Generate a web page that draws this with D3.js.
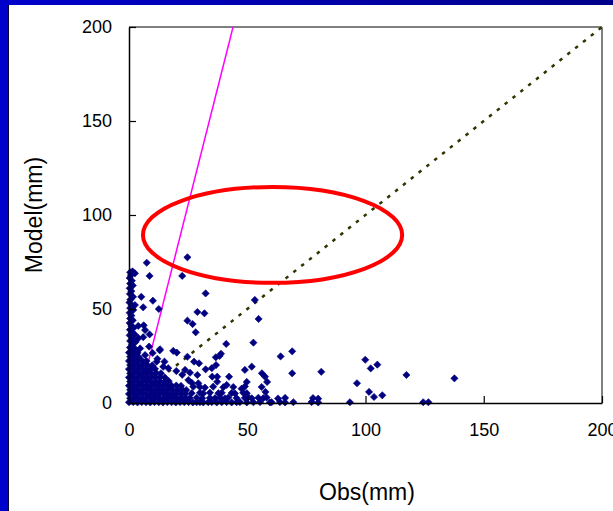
<!DOCTYPE html>
<html>
<head>
<meta charset="utf-8">
<script src="https://cdn.jsdelivr.net/npm/d3@7"></script>
<style>
  html, body { margin: 0; padding: 0; background: #fff; }
  svg { display: block; }
  text { font-family: "Liberation Sans", Arial, sans-serif; }
</style>
</head>
<body>
<svg id="chart" width="613" height="511"></svg>
<script>
// Axis ticks (mm)
const xTicks = [0, 50, 100, 150, 200];
const yTicks = [0, 50, 100, 150, 200];

// Dense cluster of small events near the origin: [obs, model]
const clusterPoints = [
  [0,0.4],[1.8,0.5],[3.6,0.3],[5.4,0.5],[7.2,0.4],[9,0.3],[10.8,0.5],[12.6,0.4],[14.4,0.3],[16.2,0.5],[18,0.4],[19.8,0.3],[21.6,0.5],[23.4,0.4],[25.2,0.5],[27,0.3],
  [0.5,2.5],[2.3,2.7],[4.1,2.6],[5.9,2.4],[7.7,2.8],[9.5,2.5],[11.3,2.7],[13.1,2.4],[14.9,2.6],[16.7,2.8],[18.5,2.5],[20.3,2.6],[22.1,2.7],[23.9,2.5],[25.7,2.6],
  [0,4.8],[1.8,4.9],[3.6,4.7],[5.4,5],[7.2,4.8],[9,4.6],[10.8,4.9],[12.6,4.8],[14.4,5],[16.2,4.7],[18,4.9],[19.8,4.6],[22,4.9],[23.8,4.8],
  [0.5,7],[2.3,7.1],[4.1,6.9],[5.9,7.2],[7.7,7],[9.5,6.8],[11.3,7.1],[13.1,7],[14.9,6.9],[16.7,7.2],[18.5,7],[20.5,6.8],[22.5,7.1],[24.2,6.9],
  [0,9.2],[1.8,9.3],[3.6,9.1],[5.4,9.4],[7.2,9.2],[9,9],[10.8,9.3],[12.6,9.2],[14.4,9.1],[16.2,9.4],[18,9.2],[20,9.3],[22,9.1],
  [0.5,11.4],[2.3,11.5],[4.1,11.3],[5.9,11.6],[7.7,11.4],[9.5,11.2],[11.3,11.5],[13.1,11.4],[15,11.3],[16.8,11.6],
  [0,13.6],[1.8,13.7],[3.6,13.5],[5.4,13.8],[7.2,13.6],[9,13.4],[11,13.7],[13,13.6],[15.2,13.5],
  [0.5,15.8],[2.3,15.9],[4.1,15.7],[5.9,16],[7.7,15.8],[9.5,15.6],[11.5,15.9],[13.5,15.8],
  [0,18],[1.8,18.1],[3.6,17.9],[5.4,18.2],[7.2,18],[9,17.8],[11,18.1],
  [0.5,20.2],[2.3,20.3],[4.1,20.1],[5.9,20.4],[7.7,20.2],[9.8,20],
  [0,22.4],[1.8,22.5],[3.6,22.3],[5.4,22.6],[7.4,22.3],
  [0.5,24.6],[2.3,24.7],[4.1,24.5],
  [0,26.8],[1.8,26.9],[3.6,26.7]
];

// Events with almost no observed rain but a sizeable model value
const columnPoints = [
  [0.5,69.5],[1.5,70],[2.5,69],[0.8,68],[0.3,66.5],[1.2,65],[0.5,63.5],[1.6,62.5],[0.3,61],[1,59.5],
  [0.4,58],[1.7,56.5],[0.6,55],[0.2,53.5],[1.2,52],[0.5,50.5],[1.8,49.5],[0.3,48],[1,46.5],[0.5,45],
  [1.6,44],[0.3,42.5],[1,41],[2,40],[0.4,39],[1.2,37.5],[0.3,36],[2.4,36.5],[1.4,34.5],[0.5,33],
  [2.8,32.5],[1.3,31],[0.4,29.5],[2.4,29],[1.2,27.5]
];

// Remaining scattered events
const scatterPoints = [
  [28.6,0.4],[30,0.5],[31.4,0.3],[33.5,0.4],[35,0.5],[37.1,0.3],[39.2,0.4],[41.3,0.5],[43.4,0.3],[45.5,0.4],
  [46.9,0.5],[49.8,0.3],[52.6,0.4],[55.4,0.5],[59.6,0.3],[60.3,0.4],[63.8,0.5],[66,0.3],[69.5,0.4],[77.2,0.5],
  [80,0.3],[93.4,0.4],[124.4,0.4],[126.6,0.4],
  [28.6,2.8],[31,2.5],[34.2,2.7],[36.4,2.6],[38.5,2.8],[40.6,2.5],[42,2.9],[45.5,2.6],[49,2.7],[50.4,3],
  [51.9,2.5],[54.7,2.8],[56.8,2.6],[58.2,2.9],[63,2.4],[66,2.7],[77.8,2.6],[80,2.3],
  [26.5,5.2],[30,5.4],[31.4,5.1],[34.2,5.5],[37.8,5.2],[39.2,5.4],[43.4,5.3],[44.8,5.1],[48.3,5.4],[49.8,5.2],[57.7,5.9],
  [27.2,8.7],[30,8.5],[32.1,8.2],[35.6,8.7],[39.9,8.4],[44.1,8.5],[47.6,7.6],[49,8.8],[56.1,8.5],
  [25.1,12.2],[26.5,10.8],[29.3,10.5],[37.3,11.3],[49.8,11.2],[58.4,11.2],[41.3,9.6],
  [18.7,27.7],[20.2,26.8],[13.1,28.6],[24.7,24.6],[27.5,22],[29.6,21.1],[23.7,17.6],[25.8,16.1],[28.9,14.9],
  [32.4,17.9],[35,18.5],[36.8,20.2],[35.2,14],[37.3,14],[42.3,14],[20,17],[22.5,15],[14.5,19.3],[16.6,18.5],
  [11.7,22],[38.3,25],[38.9,26.2],[36.7,24.3],[41.1,31.4],[52.6,32.1],[54.8,44.7],[53.2,54.8],[51.9,19.3],
  [49,17.6],[56.2,15.8],[57.5,14],[64.1,24.8],[69,27.5],[69,15.8],[81.3,16.6],[99.9,23],[102.2,18.4],
  [105,20.4],[96.4,10.5],[101.5,5.9],[103.6,3.2],[107.1,4.1],[117.3,14.9],[137.6,13.1],
  [24.7,77.5],[7.5,74.6],[8.7,67.6],[22.5,67.6],[32.4,58.3],[5.2,56.5],[10.1,54.4],[12.6,50],[28.9,48.4],
  [31.9,47.7],[24.7,43.8],[26.9,42],[28.2,37.6],[6.2,41.3],[8.7,36.5],[2.5,52.1],[6,50.9],[3.9,41],
  [6.8,38.8],[6,35],[4,34.5],[13,28],[4.7,29],[6.8,25.5],[10,26.6],[12,23.5],[15,22],[8.5,30]
];

// Reference lines: 1:1 line and fitted trend
const oneToOne = [[0, 0], [200, 200]];
const trendLine = [[6, 11], [44, 200]];

// Highlighted region (centre and half-axes in mm)
const highlight = { obs: 60.7, model: 89.4, rObs: 54.8, rModel: 25.5 };

const svg = d3.select("#chart");
const W = 613, H = 511;

// Slide frame: blue strips on the left and top
const grad = svg.append("defs").append("linearGradient")
  .attr("id", "topband").attr("x1", 0).attr("x2", 1).attr("y1", 0).attr("y2", 0);
grad.append("stop").attr("offset", 0).attr("stop-color", "#0000cc");
grad.append("stop").attr("offset", 1).attr("stop-color", "#000088");
svg.append("rect").attr("x", 0).attr("y", 0).attr("width", 9).attr("height", H).attr("fill", "#0000cc");
svg.append("rect").attr("x", 0).attr("y", 0).attr("width", W).attr("height", 5).attr("fill", "url(#topband)");
svg.append("line").attr("x1", 8.5).attr("x2", 8.5).attr("y1", 5).attr("y2", H)
  .attr("stroke", "#000033").attr("stroke-width", 1);

const x = d3.scaleLinear().domain([0, 200]).range([129, 602]);
const y = d3.scaleLinear().domain([0, 200]).range([403, 27]);

// Plot frame: grey top/right, black axes
svg.append("line").attr("x1", x(0)).attr("x2", x(200)).attr("y1", y(200)).attr("y2", y(200))
  .attr("stroke", "#808080").attr("stroke-width", 2);
svg.append("line").attr("x1", x(200)).attr("x2", x(200)).attr("y1", y(200)).attr("y2", y(0))
  .attr("stroke", "#808080").attr("stroke-width", 2);

const line = d3.line().x(d => x(d[0])).y(d => y(d[1]));

svg.append("path").datum(oneToOne).attr("d", line)
  .attr("fill", "none").attr("stroke", "#333300").attr("stroke-width", 2.5)
  .attr("stroke-dasharray", "3.5,6.5");

svg.append("path").datum(trendLine).attr("d", line)
  .attr("fill", "none").attr("stroke", "#ff00ff").attr("stroke-width", 1.5);

// Scatter markers (small diamonds)
const diamond = d3.symbol().type(d3.symbolSquare).size(26);
const allPoints = clusterPoints.concat(columnPoints, scatterPoints);
svg.append("g").selectAll("path").data(allPoints).join("path")
  .attr("d", diamond)
  .attr("transform", d => `translate(${x(d[0])},${y(d[1])}) rotate(45)`)
  .attr("fill", "#000080")
  .attr("stroke", "#000080").attr("stroke-width", 0.6).attr("stroke-linejoin", "round");

// Axes
const xAxis = d3.axisBottom(x).tickValues(xTicks).tickSizeInner(-7).tickSizeOuter(0).tickPadding(20);
const yAxis = d3.axisLeft(y).tickValues(yTicks).tickSizeInner(-7).tickSizeOuter(0).tickPadding(17);

const gx = svg.append("g").attr("transform", `translate(0,${y(0)})`).call(xAxis);
const gy = svg.append("g").attr("transform", `translate(${x(0)},0)`).call(yAxis);
[gx, gy].forEach(g => {
  g.select(".domain").attr("stroke", "#000").attr("stroke-width", 1.5);
  g.selectAll(".tick line").attr("stroke", "#000").attr("stroke-width", 1.2);
  g.selectAll(".tick text").attr("fill", "#000")
    .style("font-family", '"Liberation Sans", Arial, sans-serif').style("font-size", "18px");
});

// Highlight ellipse
svg.append("ellipse")
  .attr("cx", x(highlight.obs)).attr("cy", y(highlight.model))
  .attr("rx", x(highlight.rObs) - x(0)).attr("ry", y(0) - y(highlight.rModel))
  .attr("fill", "none").attr("stroke", "#ff0000").attr("stroke-width", 4);

// Axis titles
svg.append("text").attr("x", 367).attr("y", 500).attr("text-anchor", "middle")
  .style("font-size", "23px").attr("fill", "#000").text("Obs(mm)");
svg.append("text").attr("transform", "translate(42,215) rotate(-90)").attr("text-anchor", "middle")
  .style("font-size", "23px").attr("fill", "#000").text("Model(mm)");
</script>
</body>
</html>
